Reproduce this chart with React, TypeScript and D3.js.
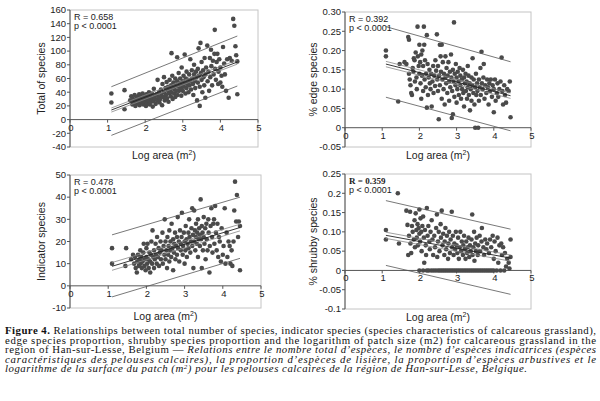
import React from "react";
import * as d3 from "d3";

type Pt = [number, number];

// x ticks shared by all four panels (log area)
const xTicks = [0, 1, 2, 3, 4, 5];

// ---- Total of species ----
const totalYTicks = [-40, -20, 0, 20, 40, 60, 80, 100, 120, 140, 160];
const totalYLabels = ["-40", "-20", "0", "20", "40", "60", "80", "100", "120", "140", "160"];
const totalStats = ["R = 0.658", "p < 0.0001"];
const totalPoints: Pt[] = [
  [1.1, 38], [1.1, 25], [1.45, 43], [1.45, 15],
  [1.6, 28], [1.63, 34], [1.66, 22], [1.68, 30], [1.7, 25], [1.72, 36], [1.74, 20], [1.76, 28], [1.78, 33], [1.8, 24],
  [1.82, 30], [1.84, 37], [1.85, 21], [1.87, 27], [1.88, 33], [1.9, 25], [1.92, 30], [1.93, 38], [1.95, 22], [1.96, 28],
  [1.98, 34], [2.0, 26], [2.0, 31], [2.02, 20], [2.03, 37], [2.05, 29], [2.06, 24], [2.08, 33], [2.1, 28], [2.1, 40],
  [2.12, 22], [2.13, 35], [2.15, 30], [2.16, 26], [2.18, 38], [2.2, 32], [2.2, 19], [2.22, 27], [2.23, 45], [2.25, 34],
  [2.26, 30], [2.28, 23], [2.3, 37], [2.32, 28], [2.33, 58], [2.35, 33], [2.37, 40], [2.38, 25], [2.4, 30], [2.42, 44],
  [2.43, 36], [2.45, 21], [2.46, 52],
  [2.48, 33], [2.5, 40], [2.5, 62], [2.52, 28], [2.54, 46], [2.55, 36], [2.57, 55], [2.58, 31], [2.6, 42], [2.61, 48],
  [2.62, 26], [2.64, 38], [2.65, 58], [2.66, 44], [2.68, 34], [2.69, 50], [2.7, 97], [2.7, 40], [2.72, 64], [2.73, 30],
  [2.74, 47], [2.75, 54], [2.77, 38], [2.78, 44], [2.8, 60], [2.8, 33], [2.82, 50], [2.83, 42], [2.85, 91], [2.85, 56],
  [2.86, 36], [2.88, 48], [2.89, 68], [2.9, 42], [2.92, 53], [2.93, 60], [2.95, 45], [2.96, 35], [2.97, 76], [2.98, 50],
  [3.0, 56], [3.0, 42], [3.02, 64], [3.03, 48], [3.05, 95], [3.05, 54], [3.07, 38], [3.08, 60], [3.1, 46], [3.1, 70],
  [3.12, 52], [3.14, 58], [3.15, 40], [3.17, 66], [3.18, 50], [3.2, 88], [3.2, 56], [3.22, 44], [3.24, 72], [3.25, 60],
  [3.27, 52], [3.28, 36], [3.3, 66], [3.3, 80], [3.32, 56], [3.33, 46], [3.35, 70], [3.36, 62], [3.38, 28], [3.4, 74],
  [3.4, 54], [3.42, 104], [3.43, 64], [3.45, 48], [3.45, 20], [3.47, 112], [3.48, 68], [3.5, 58], [3.5, 84], [3.52, 40],
  [3.54, 72], [3.55, 62], [3.57, 50], [3.58, 90], [3.6, 66], [3.6, 32], [3.62, 76],
  [3.65, 108], [3.66, 56], [3.68, 70], [3.7, 42], [3.72, 90], [3.73, 62], [3.75, 102], [3.76, 78], [3.78, 50], [3.8, 86],
  [3.82, 66], [3.84, 96], [3.85, 131], [3.86, 74], [3.88, 58], [3.9, 84], [3.92, 96], [3.94, 52], [3.95, 70], [3.97, 88],
  [4.0, 54], [4.0, 76], [4.03, 64], [4.05, 48], [4.07, 106], [4.1, 82], [4.12, 66], [4.15, 42], [4.18, 88], [4.22, 32],
  [4.25, 90], [4.3, 86], [4.34, 147], [4.37, 137], [4.4, 107], [4.42, 94], [4.45, 85], [4.45, 37],
];
// regression line, 95% confidence band, prediction band (end points)
const totalFit: Pt[] = [[1.1, 14], [4.45, 84]];
const totalConf: Pt[][] = [[[1.1, 17], [4.45, 87]], [[1.1, 11], [4.45, 81]]];
const totalPred: Pt[][] = [[[1.1, 48], [4.45, 122]], [[1.1, -23], [4.45, 49]]];

// ---- % edge species ----
const edgeYTicks = [-0.05, 0, 0.05, 0.1, 0.15, 0.2, 0.25, 0.3];
const edgeYLabels = ["-0.05", "0", "0.05", "0.10", "0.15", "0.20", "0.25", "0.30"];
const edgeStats = ["R = 0.392", "p < 0.0001"];
const edgePoints: Pt[] = [
  [1.1, 0.2], [1.1, 0.185], [1.43, 0.068], [1.47, 0.165], [1.6, 0.17], [1.65, 0.165], [1.7, 0.235], [1.72, 0.228],
  [1.72, 0.14], [1.74, 0.125], [1.76, 0.11], [1.78, 0.09], [1.8, 0.085], [1.82, 0.155], [1.84, 0.145], [1.85, 0.18],
  [1.87, 0.175], [1.88, 0.12], [1.9, 0.195], [1.92, 0.13], [1.93, 0.1], [1.95, 0.262], [1.96, 0.185], [1.98, 0.16],
  [2.0, 0.215], [2.0, 0.14], [2.02, 0.17], [2.03, 0.115], [2.05, 0.19], [2.05, 0.075], [2.07, 0.135], [2.08, 0.2],
  [2.1, 0.16], [2.1, 0.095], [2.12, 0.262], [2.13, 0.215], [2.14, 0.125], [2.15, 0.175], [2.17, 0.105], [2.18, 0.14],
  [2.2, 0.24], [2.2, 0.052], [2.22, 0.165], [2.23, 0.085], [2.25, 0.13], [2.27, 0.15], [2.28, 0.115], [2.3, 0.1],
  [2.32, 0.14], [2.33, 0.055], [2.35, 0.12], [2.37, 0.16], [2.38, 0.09], [2.4, 0.135], [2.42, 0.108], [2.43, 0.175],
  [2.45, 0.148], [2.47, 0.242], [2.48, 0.125], [2.5, 0.095], [2.5, 0.16], [2.52, 0.022], [2.53, 0.135], [2.55, 0.215],
  [2.55, 0.11], [2.57, 0.185], [2.58, 0.145], [2.6, 0.075], [2.6, 0.215], [2.62, 0.125], [2.63, 0.17], [2.65, 0.1],
  [2.66, 0.14], [2.68, 0.06], [2.7, 0.13], [2.7, 0.185], [2.72, 0.115], [2.73, 0.155], [2.75, 0.09], [2.76, 0.135],
  [2.78, 0.17], [2.8, 0.12], [2.8, 0.07], [2.82, 0.145], [2.83, 0.105], [2.85, 0.19], [2.86, 0.13], [2.87, 0.025],
  [2.88, 0.095], [2.9, 0.15], [2.9, 0.035], [2.92, 0.12], [2.93, 0.273], [2.94, 0.08], [2.95, 0.14], [2.97, 0.11],
  [2.98, 0.165], [3.0, 0.13], [3.0, 0.065], [3.02, 0.1], [3.03, 0.145], [3.05, 0.12], [3.06, 0.085], [3.08, 0.155],
  [3.1, 0.11], [3.1, 0.135], [3.12, 0.075], [3.14, 0.125], [3.15, 0.1], [3.17, 0.15], [3.18, 0.09], [3.2, 0.13],
  [3.2, 0.055], [3.22, 0.115], [3.24, 0.14], [3.25, 0.095], [3.27, 0.12], [3.28, 0.075], [3.3, 0.16], [3.3, 0.105],
  [3.32, 0.135], [3.33, 0.085], [3.35, 0.115], [3.36, 0.045], [3.38, 0.1], [3.4, 0.13], [3.4, 0.07], [3.42, 0.11],
  [3.43, 0.18], [3.45, 0.09], [3.46, 0.125], [3.48, 0.06], [3.5, 0.105], [3.5, 0.0], [3.52, 0.14], [3.53, 0.085],
  [3.55, 0.115], [3.56, 0.095], [3.58, 0.0], [3.6, 0.125], [3.6, 0.07], [3.62, 0.105], [3.64, 0.155], [3.65, 0.085],
  [3.67, 0.197], [3.68, 0.115], [3.7, 0.1], [3.72, 0.13], [3.73, 0.165], [3.75, 0.075], [3.77, 0.11], [3.8, 0.09],
  [3.82, 0.125], [3.84, 0.105], [3.86, 0.06], [3.88, 0.115], [3.9, 0.095], [3.92, 0.125], [3.95, 0.08], [3.97, 0.11],
  [4.0, 0.04], [4.0, 0.1], [4.03, 0.125], [4.05, 0.07], [4.08, 0.09], [4.1, 0.115], [4.12, 0.08], [4.15, 0.1],
  [4.18, 0.12], [4.21, 0.182], [4.23, 0.095], [4.25, 0.06], [4.28, 0.11], [4.3, 0.085], [4.33, 0.065], [4.36, 0.1],
  [4.4, 0.095], [4.43, 0.12], [4.45, 0.027],
];
const edgeFit: Pt[] = [[1.1, 0.165], [4.45, 0.083]];
const edgeConf: Pt[][] = [[[1.1, 0.172], [4.45, 0.09]], [[1.1, 0.158], [4.45, 0.076]]];
const edgePred: Pt[][] = [[[1.1, 0.262], [4.45, 0.171]], [[1.1, 0.079], [4.45, -0.008]]];

// ---- Indicator species ----
const indYTicks = [-10, 0, 10, 20, 30, 40, 50];
const indYLabels = ["-10", "0", "10", "20", "30", "40", "50"];
const indStats = ["R = 0.478", "p < 0.0001"];
const indPoints: Pt[] = [
  [1.1, 17], [1.1, 10], [1.47, 17], [1.45, 9], [1.6, 12], [1.65, 14], [1.68, 10], [1.7, 13], [1.72, 8], [1.75, 6],
  [1.76, 11], [1.78, 14], [1.8, 9], [1.82, 12], [1.84, 16], [1.85, 10], [1.87, 13], [1.88, 8], [1.9, 11], [1.92, 15],
  [1.93, 19], [1.95, 9], [1.96, 12], [1.98, 7], [2.0, 13], [2.0, 17], [2.02, 10], [2.03, 19], [2.05, 12], [2.06, 8],
  [2.08, 15], [2.1, 11], [2.1, 6], [2.12, 14], [2.13, 20], [2.15, 10], [2.16, 25], [2.18, 13], [2.2, 16], [2.2, 8],
  [2.22, 12], [2.24, 19], [2.25, 14], [2.27, 10], [2.28, 22], [2.3, 13], [2.32, 17], [2.33, 9], [2.35, 15], [2.37, 20],
  [2.38, 12], [2.4, 16], [2.42, 24], [2.43, 10], [2.45, 18], [2.47, 14], [2.48, 30], [2.5, 12], [2.5, 20], [2.52, 16],
  [2.54, 8], [2.55, 22], [2.57, 14], [2.58, 18], [2.6, 11], [2.6, 25], [2.62, 16], [2.63, 20], [2.65, 13], [2.66, 28],
  [2.68, 17], [2.7, 7], [2.7, 21], [2.72, 15], [2.73, 19], [2.75, 24], [2.76, 12], [2.78, 18], [2.8, 22], [2.8, 14],
  [2.82, 31], [2.83, 17], [2.85, 20], [2.86, 11], [2.88, 25], [2.9, 16], [2.9, 19], [2.92, 22], [2.93, 33], [2.95, 14],
  [2.96, 18], [2.98, 24], [3.0, 20], [3.0, 10], [3.02, 16], [3.03, 27], [3.05, 21], [3.06, 13], [3.08, 19], [3.1, 24],
  [3.1, 17], [3.12, 30], [3.13, 22], [3.15, 15], [3.17, 20], [3.18, 26], [3.2, 35], [3.2, 18], [3.22, 23], [3.23, 8],
  [3.25, 34], [3.25, 20], [3.27, 25], [3.28, 16], [3.3, 22], [3.3, 28], [3.32, 19], [3.33, 24], [3.35, 13], [3.35, 30],
  [3.37, 21], [3.38, 26], [3.4, 23], [3.4, 18], [3.42, 39], [3.43, 21], [3.45, 8], [3.45, 27], [3.47, 24], [3.48, 16],
  [3.5, 31], [3.5, 22], [3.52, 19], [3.54, 26], [3.55, 12], [3.57, 28], [3.58, 21], [3.6, 16], [3.62, 30], [3.63, 24],
  [3.65, 6], [3.66, 18], [3.68, 27], [3.7, 35], [3.72, 22], [3.73, 15], [3.75, 28], [3.77, 30], [3.78, 19], [3.8, 36],
  [3.82, 24], [3.84, 16], [3.86, 28], [3.88, 13], [3.9, 22], [3.92, 20], [3.95, 11], [3.97, 26], [4.0, 14], [4.02, 18],
  [4.05, 35], [4.07, 10], [4.1, 24], [4.12, 13], [4.15, 20], [4.18, 18], [4.2, 10], [4.23, 16], [4.25, 9], [4.28, 20],
  [4.3, 34], [4.32, 47], [4.35, 29], [4.37, 41], [4.4, 22], [4.42, 29], [4.45, 27], [4.45, 7],
];
const indFit: Pt[] = [[1.1, 8.8], [4.45, 26.3]];
const indConf: Pt[][] = [[[1.1, 10.5], [4.45, 27.8]], [[1.1, 7], [4.45, 24.8]]];
const indPred: Pt[][] = [[[1.1, 23], [4.45, 40]], [[1.1, -5], [4.45, 12.4]]];

// ---- % shrubby species ----
const shrubYTicks = [-0.1, -0.05, 0, 0.05, 0.1, 0.15, 0.2, 0.25];
const shrubYLabels = ["-0.1", "-0.05", "0", "0.05", "0.10", "0.15", "0.2", "0.25"];
const shrubStats = ["R = 0.359", "p < 0.0001"];
const shrubPoints: Pt[] = [
  [1.1, 0.105], [1.1, 0.08], [1.42, 0.2], [1.45, 0.07], [1.65, 0.155], [1.68, 0.118], [1.7, 0.04], [1.72, 0.09],
  [1.75, 0.152], [1.76, 0.07], [1.78, 0.045], [1.8, 0.115], [1.82, 0.1], [1.85, 0.08], [1.87, 0.13], [1.88, 0.06],
  [1.9, 0.148], [1.92, 0.105], [1.93, 0.085], [1.95, 0.12], [1.96, 0.065], [1.98, 0.11], [2.0, 0.158], [2.0, 0.095],
  [2.0, 0.0], [2.02, 0.075], [2.03, 0.135], [2.05, 0.1], [2.06, 0.05], [2.08, 0.115], [2.1, 0.14], [2.1, 0.0],
  [2.12, 0.085], [2.13, 0.02], [2.15, 0.105], [2.17, 0.065], [2.18, 0.04], [2.2, 0.162], [2.2, 0.0], [2.22, 0.09],
  [2.24, 0.115], [2.25, 0.0], [2.27, 0.075], [2.28, 0.055], [2.3, 0.1], [2.32, 0.0], [2.33, 0.13], [2.35, 0.08],
  [2.37, 0.04], [2.38, 0.0], [2.4, 0.09], [2.42, 0.06], [2.44, 0.0], [2.45, 0.11], [2.47, 0.145], [2.48, 0.035],
  [2.5, 0.0], [2.5, 0.075], [2.52, 0.1], [2.54, 0.05], [2.55, 0.0], [2.57, 0.12], [2.58, 0.085], [2.6, 0.155],
  [2.6, 0.0], [2.62, 0.065], [2.64, 0.095], [2.65, 0.0], [2.67, 0.04], [2.68, 0.075], [2.7, 0.0], [2.7, 0.11],
  [2.72, 0.055], [2.74, 0.09], [2.75, 0.0], [2.77, 0.03], [2.78, 0.07], [2.8, 0.0], [2.8, 0.1], [2.82, 0.045],
  [2.84, 0.08], [2.85, 0.0], [2.87, 0.152], [2.88, 0.06], [2.9, 0.0], [2.9, 0.09], [2.92, 0.04], [2.94, 0.07],
  [2.95, 0.0], [2.96, 0.055], [2.98, 0.1], [3.0, 0.0], [3.0, 0.065], [3.02, 0.045], [3.04, 0.085], [3.05, 0.0],
  [3.06, 0.03], [3.08, 0.06], [3.1, 0.0], [3.1, 0.1], [3.12, 0.05], [3.14, 0.075], [3.15, 0.0], [3.17, 0.04],
  [3.18, 0.065], [3.2, 0.0], [3.2, 0.09], [3.22, 0.055], [3.24, 0.03], [3.25, 0.0], [3.26, 0.075], [3.28, 0.045],
  [3.3, 0.0], [3.3, 0.06], [3.32, 0.085], [3.34, 0.035], [3.35, 0.0], [3.36, 0.065], [3.38, 0.05], [3.4, 0.0],
  [3.4, 0.08], [3.42, 0.145], [3.43, 0.04], [3.45, 0.0], [3.45, 0.06], [3.47, 0.1], [3.48, 0.025], [3.5, 0.0],
  [3.5, 0.07], [3.52, 0.05], [3.54, 0.085], [3.55, 0.0], [3.57, 0.04], [3.58, 0.065], [3.6, 0.0], [3.62, 0.09],
  [3.63, 0.05], [3.65, 0.0], [3.67, 0.075], [3.68, 0.11], [3.7, 0.0], [3.72, 0.06], [3.74, 0.04], [3.75, 0.0],
  [3.77, 0.08], [3.8, 0.0], [3.8, 0.055], [3.82, 0.07], [3.85, 0.0], [3.87, 0.045], [3.9, 0.0], [3.9, 0.08],
  [3.93, 0.06], [3.95, 0.0], [3.97, 0.09], [4.0, 0.03], [4.0, 0.0], [4.02, 0.075], [4.05, 0.05], [4.08, 0.0],
  [4.1, 0.085], [4.12, 0.02], [4.15, 0.065], [4.18, 0.0], [4.2, 0.07], [4.22, 0.04], [4.25, 0.06], [4.28, 0.0],
  [4.3, 0.045], [4.33, 0.01], [4.36, 0.03], [4.4, 0.02], [4.42, 0.005], [4.45, 0.08], [4.45, 0.035],
];
const shrubFit: Pt[] = [[1.1, 0.091], [4.45, 0.032]];
const shrubConf: Pt[][] = [[[1.1, 0.099], [4.45, 0.04]], [[1.1, 0.083], [4.45, 0.024]]];
const shrubPred: Pt[][] = [[[1.1, 0.181], [4.45, 0.107]], [[1.1, 0.013], [4.45, -0.062]]];

// caption lines (justified except last)
type Seg = { t: string; b?: boolean; i?: boolean; sup?: boolean };
const captionLines: Seg[][] = [
  [{ t: "Figure 4.", b: true }, { t: " Relationships between total number of species, indicator species (species characteristics of calcareous grassland)," }],
  [{ t: "edge species proportion, shrubby species proportion and the logarithm of patch size (m2) for calcareous grassland in the" }],
  [{ t: "region of Han-sur-Lesse, Belgium — " }, { t: "Relations entre le nombre total d’espèces, le nombre d’espèces indicatrices (espèces", i: true }],
  [{ t: "caractéristiques des pelouses calcaires), la proportion d’espèces de lisière, la proportion d’espèces arbustives et le", i: true }],
  [{ t: "logarithme de la surface du patch (m", i: true }, { t: "2", i: true, sup: true }, { t: ") pour les pelouses calcaires de la région de Han-sur-Lesse, Belgique.", i: true }],
];
const captionWidths = [591, 591, 591, 591, 522];

const SANS = "'Liberation Sans', Arial, sans-serif";
const SERIF = "'Liberation Serif', 'Times New Roman', serif";

type PanelProps = {
  left: number; right: number; top: number; bottom: number;
  yDomain: [number, number]; yTicks: number[]; yLabels: string[];
  yTitle: string; yTitleX: number; stats: string[]; rSerif?: boolean;
  points: Pt[]; fit: Pt[]; conf: Pt[][]; pred: Pt[][];
};

function Panel(p: PanelProps) {
  const x = d3.scaleLinear().domain([0, 5]).range([p.left, p.right]);
  const y = d3.scaleLinear().domain(p.yDomain).range([p.bottom, p.top]);
  const line = d3.line<Pt>().x((d) => x(d[0])).y((d) => y(d[1]));
  const y0 = y(0);
  const midY = (p.top + p.bottom) / 2;
  return (
    <g>
      {/* frame */}
      <rect x={p.left} y={p.top} width={p.right - p.left} height={p.bottom - p.top}
        fill="none" stroke="#c4c4c4" strokeWidth={1} />
      {/* y axis */}
      <line x1={p.left} x2={p.left} y1={p.top} y2={p.bottom} stroke="#555" strokeWidth={1} />
      {p.yTicks.map((t, i) => (
        <g key={"y" + i}>
          <line x1={p.left - 3} x2={p.left} y1={y(t)} y2={y(t)} stroke="#555" />
          <text x={p.left - 4} y={y(t)} dy="0.35em" textAnchor="end" fontSize={9.5}
            fontFamily={SANS} fill="#222">{p.yLabels[i]}</text>
        </g>
      ))}
      {/* x axis at zero */}
      <line x1={p.left} x2={p.right} y1={y0} y2={y0} stroke="#555" strokeWidth={1} />
      {xTicks.map((t) => (
        <g key={"x" + t}>
          <line x1={x(t)} x2={x(t)} y1={y0} y2={y0 + 3} stroke="#555" />
          <text x={x(t) + 1} y={y0 + 11} textAnchor="middle" fontSize={9.5}
            fontFamily={SANS} fill="#222">{t}</text>
        </g>
      ))}
      {/* points */}
      {p.points.map((d, i) => (
        <circle key={i} cx={x(d[0])} cy={y(d[1])} r={2.3} fill="#4a4a4a" />
      ))}
      {/* regression lines */}
      {p.pred.map((l, i) => (
        <path key={"p" + i} d={line(l) || ""} fill="none" stroke="#555" strokeWidth={0.8} />
      ))}
      {p.conf.map((l, i) => (
        <path key={"c" + i} d={line(l) || ""} fill="none" stroke="#888" strokeWidth={0.8} />
      ))}
      <path d={line(p.fit) || ""} fill="none" stroke="#222" strokeWidth={0.9} />
      {/* stats */}
      <text x={p.left + 4} y={p.top + 10} fontSize={9} fontFamily={p.rSerif ? SERIF : SANS}
        fontWeight={p.rSerif ? "bold" : "normal"} fill="#222">{p.stats[0]}</text>
      <text x={p.left + 4} y={p.top + 19} fontSize={9} fontFamily={SANS} fill="#222">{p.stats[1]}</text>
      {/* axis titles */}
      <text transform={`translate(${p.yTitleX},${midY}) rotate(-90)`} textAnchor="middle"
        fontSize={10.5} fontFamily={SANS} fill="#222">{p.yTitle}</text>
      <text x={(p.left + p.right) / 2} y={p.bottom + 12} textAnchor="middle" fontSize={10.5}
        fontFamily={SANS} fill="#222">
        Log area (m<tspan dy={-4} fontSize={7}>2</tspan><tspan dy={4}>)</tspan>
      </text>
    </g>
  );
}

export default function App() {
  return (
    <svg width={600} height={401} style={{ position: "absolute", left: 0, top: 0, background: "#fff" }}>
      <rect width={600} height={401} fill="#fff" />
      <Panel left={70} right={258} top={10} bottom={147} yDomain={[-40, 160]} yTicks={totalYTicks}
        yLabels={totalYLabels} yTitle="Total of species" yTitleX={45} stats={totalStats}
        points={totalPoints} fit={totalFit} conf={totalConf} pred={totalPred} />
      <Panel left={345} right={531} top={12} bottom={147} yDomain={[-0.05, 0.3]} yTicks={edgeYTicks}
        yLabels={edgeYLabels} yTitle="% edge species" yTitleX={317} stats={edgeStats}
        points={edgePoints} fit={edgeFit} conf={edgeConf} pred={edgePred} />
      <Panel left={70} right={261} top={175} bottom={308} yDomain={[-10, 50]} yTicks={indYTicks}
        yLabels={indYLabels} yTitle="Indicator species" yTitleX={45} stats={indStats}
        points={indPoints} fit={indFit} conf={indConf} pred={indPred} />
      <Panel left={345} right={531} top={174} bottom={309} yDomain={[-0.1, 0.25]} yTicks={shrubYTicks}
        yLabels={shrubYLabels} yTitle="% shrubby species" yTitleX={317} stats={shrubStats} rSerif
        points={shrubPoints} fit={shrubFit} conf={shrubConf} pred={shrubPred} />
      {/* caption */}
      {captionLines.map((ln, i) => (
        <text key={i} x={5} y={334 + i * 9.6} fontSize={10.8} fontFamily={SERIF} fill="#111"
          textLength={captionWidths[i]} lengthAdjust="spacing">
          {ln.map((s, j) => (
            <tspan key={j} fontWeight={s.b ? "bold" : "normal"} fontStyle={s.i ? "italic" : "normal"}
              fontSize={s.sup ? 7 : undefined}
              dy={s.sup ? -3.5 : j > 0 && ln[j - 1].sup ? 3.5 : undefined}>
              {s.t}
            </tspan>
          ))}
        </text>
      ))}
    </svg>
  );
}
